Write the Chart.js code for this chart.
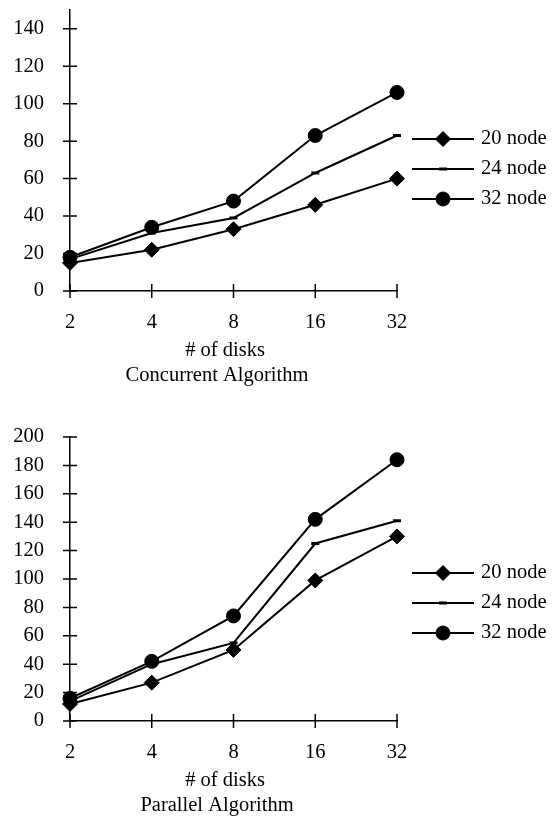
<!DOCTYPE html>
<html>
<head>
<meta charset="utf-8">
<script src="https://cdn.jsdelivr.net/npm/chart.js@4.4.0/dist/chart.umd.min.js"></script>
<style>
body{margin:0;background:#fff}
canvas{display:block}
</style>
</head>
<body>
<canvas id="concurrent" width="556" height="410"></canvas>
<canvas id="parallel" width="556" height="410"></canvas>
<script>
let disks = ["2","4","8","16","32"]
let nodes = ["20 node","24 node","32 node"]

let concurrent20 = [15,22,33,46,60]
let concurrent24 = [17,31,39,63,83]
let concurrent32 = [18,34,48,83,106]

let parallel20 = [12,27,50,99,130]
let parallel24 = [14,40,55,125,141]
let parallel32 = [16,42,74,142,184]

let concurrentMax = 150
let parallelMax = 200
let yStep = 20

let textFont = "20.5px 'Liberation Serif', 'Times New Roman', serif"

Chart.defaults.font.family = "'Liberation Serif', 'Times New Roman', serif"
Chart.defaults.font.size = 20.5
Chart.defaults.color = "#000"

// marker for the side legend, same shapes chart.js uses
function drawMarker(ctx, ds, x, y){
let r = ds.pointRadius
ctx.fillStyle = "#000"
ctx.strokeStyle = "#000"
ctx.lineWidth = ds.pointBorderWidth
ctx.beginPath()
if(ds.pointStyle === "circle"){
ctx.arc(x, y, r, 0, Math.PI*2)
ctx.fill()
ctx.stroke()
}else if(ds.pointStyle === "rectRot"){
ctx.moveTo(x-r, y)
ctx.lineTo(x, y-r)
ctx.lineTo(x+r, y)
ctx.lineTo(x, y+r)
ctx.closePath()
ctx.fill()
ctx.stroke()
}else{
ctx.moveTo(x-r, y)
ctx.lineTo(x+r, y)
ctx.stroke()
}
}

// legend on the right plus the two-line axis caption under the x axis
let sideLegend = {
id: "sideLegend",
afterDraw(chart, args, opts){
let ctx = chart.ctx
let a = chart.chartArea
chart.data.datasets.forEach((ds, i) => {
let y = opts.top + i*opts.gap
ctx.save()
ctx.strokeStyle = "#000"
ctx.lineWidth = ds.borderWidth
ctx.beginPath()
ctx.moveTo(412, y)
ctx.lineTo(474, y)
ctx.stroke()
drawMarker(ctx, ds, 443, y)
ctx.fillStyle = "#000"
ctx.font = textFont
ctx.textAlign = "left"
ctx.textBaseline = "middle"
ctx.fillText(ds.label, 481, y)
ctx.restore()
})
ctx.save()
ctx.fillStyle = "#000"
ctx.font = textFont
ctx.textAlign = "center"
ctx.textBaseline = "middle"
ctx.fillText("# of disks", 225, a.bottom + 59.5)
ctx.fillText(opts.caption, 217, a.bottom + 84.5)
ctx.restore()
}
}

// tick marks that cross the axis lines
let crossTicks = {
id: "crossTicks",
beforeDatasetsDraw(chart){
let ctx = chart.ctx
let a = chart.chartArea
let xs = chart.scales.x
let ys = chart.scales.y
ctx.save()
ctx.strokeStyle = "#000"
ctx.lineWidth = 1.5
ctx.beginPath()
xs.ticks.forEach((t, i) => {
let px = xs.getPixelForTick(i)
ctx.moveTo(px, a.bottom-7)
ctx.lineTo(px, a.bottom+7)
})
ys.ticks.forEach((t, i) => {
let py = ys.getPixelForTick(i)
ctx.moveTo(a.left-7, py)
ctx.lineTo(a.left+7, py)
})
ctx.stroke()
ctx.restore()
}
}

function makeChart(id, d20, d24, d32, yMax, caption, padTop, padBottom, legendTop){

return new Chart(document.getElementById(id), {

type: "line",

data: {
labels: disks,
datasets: [
{label: nodes[0], data: d20, borderColor: "#000", borderWidth: 2, pointStyle: "rectRot", pointRadius: 7.5, pointBorderWidth: 1, pointBackgroundColor: "#000", pointBorderColor: "#000"},
{label: nodes[1], data: d24, borderColor: "#000", borderWidth: 2, pointStyle: "line", pointRadius: 4, pointBorderWidth: 3, pointBackgroundColor: "#000", pointBorderColor: "#000"},
{label: nodes[2], data: d32, borderColor: "#000", borderWidth: 2, pointStyle: "circle", pointRadius: 7, pointBorderWidth: 1, pointBackgroundColor: "#000", pointBorderColor: "#000"}
]
},

options: {
responsive: false,
animation: false,
devicePixelRatio: 1,
layout: {autoPadding: false, padding: {left: 14, right: 159, top: padTop, bottom: padBottom}},
plugins: {
legend: {display: false},
tooltip: {enabled: false},
sideLegend: {top: legendTop, gap: 30, caption: caption}
},
scales: {
x: {
grid: {display: false, drawTicks: false},
border: {display: true, color: "#000", width: 1.5},
ticks: {color: "#000", padding: 19, maxRotation: 0, autoSkip: false, font: {lineHeight: 1.2}},
afterFit(s){
s.height = 97
s.paddingLeft = 0
s.paddingRight = 0
}
},
y: {
min: 0,
max: yMax,
grid: {display: false, drawTicks: false},
border: {display: true, color: "#000", width: 1.5},
ticks: {stepSize: yStep, includeBounds: false, color: "#000", padding: 26, font: {lineHeight: 1}},
afterFit(s){
s.width = 56
s.paddingTop = 0
s.paddingBottom = 0
}
}
}
},

plugins: [crossTicks, sideLegend]

})

}

makeChart("concurrent", concurrent20, concurrent24, concurrent32, concurrentMax, "Concurrent Algorithm", 10, 22, 139)
makeChart("parallel", parallel20, parallel24, parallel32, parallelMax, "Parallel Algorithm", 27, 2, 163)
</script>
</body>
</html>
